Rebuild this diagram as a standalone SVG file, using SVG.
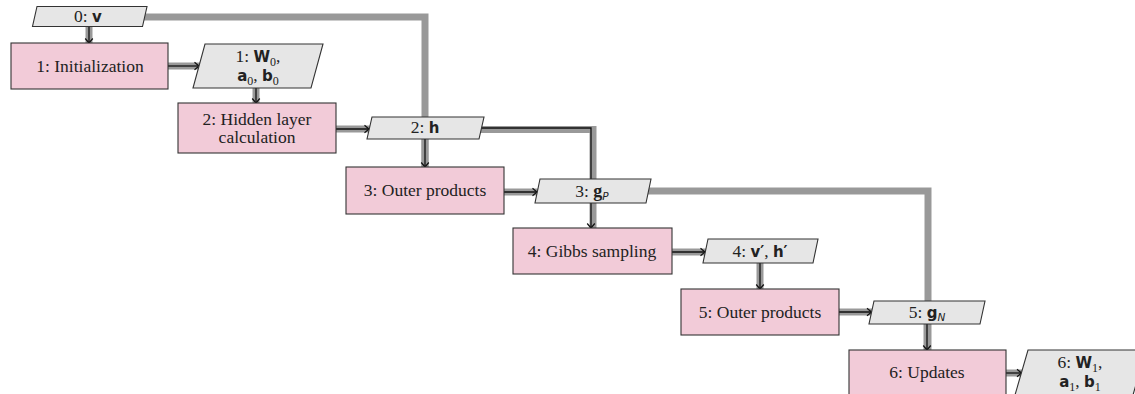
<svg xmlns="http://www.w3.org/2000/svg" width="1135" height="394" viewBox="0 0 1135 394">
<defs>
<marker id="arr" markerUnits="userSpaceOnUse" markerWidth="12" markerHeight="12" viewBox="-6 -6 12 12" refX="0" refY="0" orient="auto">
<path d="M-4.5,-3.8 Q-1.2,-1 0,0 Q-1.2,1 -4.5,3.8" fill="none" stroke="#111" stroke-width="1.2"/>
</marker>
<style>
.fn rect{fill:#f2cbd8;stroke:#333;stroke-width:1.1}
.dt path{fill:#e6e6e6;stroke:#333;stroke-width:1.1}
.t{font-family:"Liberation Serif",serif;font-size:17.5px;fill:#222;text-anchor:middle}
.m{font-family:"DejaVu Sans",sans-serif;font-weight:bold;font-size:15px}
.gb{font-family:"Liberation Serif",serif;font-weight:bold;font-size:18px}
.s{font-family:"Liberation Serif",serif;font-size:12px;font-weight:normal}
.si{font-family:"DejaVu Sans",sans-serif;font-style:italic;font-size:10.5px;font-weight:normal}
.data{stroke:#999;stroke-width:7;fill:none}
.proc{stroke:#111;stroke-width:1.3;fill:none;marker-end:url(#arr)}
</style>
</defs>
<rect width="1135" height="394" fill="#fff"/>
<g id="connectors">
<path class="data" d="M140,17 H425 V167"/>
<path class="data" d="M478,129.5 H593 V228"/>
<path class="data" d="M645,191 H928 V350"/>
<path class="data" d="M89,26 V43"/>
<path class="data" d="M168,66 H200"/>
<path class="data" d="M256,88 V103"/>
<path class="data" d="M336,129 H370"/>
<path class="data" d="M425,139 V167"/>
<path class="data" d="M504,192 H538"/>
<path class="data" d="M672,252 H706"/>
<path class="data" d="M760,263 V289"/>
<path class="data" d="M839,312 H872"/>
<path class="data" d="M927,324 V350"/>
<path class="data" d="M1006,373 H1022"/>
<path class="proc" d="M89,27 V43"/>
<path class="proc" d="M168,66 H199"/>
<path class="proc" d="M256,88 V103"/>
<path class="proc" d="M336,129 H369"/>
<path class="proc" d="M425,139 V167"/>
<path class="proc" d="M504,192 H537"/>
<path class="proc" d="M480,128 H591 V228"/>
<path class="proc" d="M672,252 H705"/>
<path class="proc" d="M760,263 V289"/>
<path class="proc" d="M839,312 H871.5"/>
<path class="proc" d="M927,324 V350"/>
<path class="proc" d="M1006,373 H1021.5"/>
</g>
<g id="d0" class="dt">
<path d="M37,6.5 H147 L142.5,26.5 H32.5 Z"/>
<text class="t" x="88" y="22">0: <tspan class="m">v</tspan></text>
</g>
<g id="f1" class="fn">
<rect x="11" y="43" width="157" height="46"/>
<text class="t" x="90" y="72">1: Initialization</text>
</g>
<g id="d1" class="dt">
<path d="M205,44 H323 L311,88 H193 Z"/>
<text class="t" x="258" y="62">1: <tspan class="m">W</tspan><tspan class="s" dy="4">0</tspan><tspan dy="-4">,</tspan></text>
<text class="t" x="258" y="81"><tspan class="m">a</tspan><tspan class="s" dy="4">0</tspan><tspan dy="-4">, </tspan><tspan class="m">b</tspan><tspan class="s" dy="4">0</tspan></text>
</g>
<g id="f2" class="fn">
<rect x="178" y="103" width="158" height="50"/>
<text class="t" x="257" y="125">2: Hidden layer</text>
<text class="t" x="257" y="143">calculation</text>
</g>
<g id="d2" class="dt">
<path d="M372,117 H484 L479,139 H367 Z"/>
<text class="t" x="425" y="133">2: <tspan class="m">h</tspan></text>
</g>
<g id="f3" class="fn">
<rect x="346" y="167" width="158" height="47"/>
<text class="t" x="425" y="196">3: Outer products</text>
</g>
<g id="d3" class="dt">
<path d="M540,179 H651 L646,203 H535 Z"/>
<text class="t" x="592" y="197">3: <tspan class="gb">g</tspan><tspan class="si" dy="3">P</tspan></text>
</g>
<g id="f4" class="fn">
<rect x="513" y="228" width="159" height="46"/>
<text class="t" x="592" y="257">4: Gibbs sampling</text>
</g>
<g id="d4" class="dt">
<path d="M708,239 H818 L813,263 H703 Z"/>
<text class="t" x="760" y="257">4: <tspan class="m">v′</tspan>, <tspan class="m">h′</tspan></text>
</g>
<g id="f5" class="fn">
<rect x="681" y="289" width="158" height="46"/>
<text class="t" x="760" y="318">5: Outer products</text>
</g>
<g id="d5" class="dt">
<path d="M874,301 H985 L980,324 H869 Z"/>
<text class="t" x="927" y="318">5: <tspan class="m">g</tspan><tspan class="si" dy="3">N</tspan></text>
</g>
<g id="f6" class="fn">
<rect x="849" y="350" width="157" height="50"/>
<text class="t" x="927" y="378">6: Updates</text>
</g>
<g id="d6" class="dt">
<path d="M1028,350 H1146 L1133,395 H1015 Z"/>
<text class="t" x="1080" y="368">6: <tspan class="m">W</tspan><tspan class="s" dy="4">1</tspan><tspan dy="-4">,</tspan></text>
<text class="t" x="1080" y="387"><tspan class="m">a</tspan><tspan class="s" dy="4">1</tspan><tspan dy="-4">, </tspan><tspan class="m">b</tspan><tspan class="s" dy="4">1</tspan></text>
</g>
</svg>
